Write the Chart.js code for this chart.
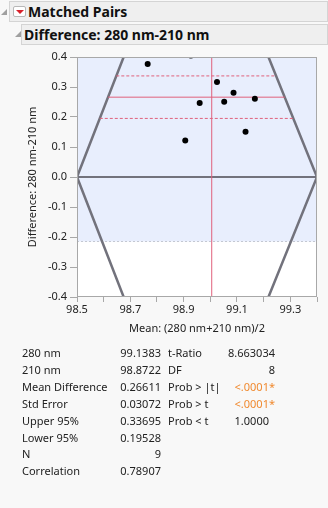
<!DOCTYPE html>
<html>
<head>
<meta charset="utf-8">
<script src="https://cdn.jsdelivr.net/npm/chart.js@4.4.1/dist/chart.umd.min.js"></script>
<style>
  body { margin: 0; width: 328px; height: 508px; overflow: hidden; position: relative;
         background: #f8f8f8; font-family: "Noto Sans", sans-serif; color: #222; }
  .hdr { position: absolute; box-sizing: border-box; background: #efefef; border: 1px solid #d4d4d4;
         font-weight: bold; font-size: 14px; line-height: 19px; color: #111; }
  .tog { position: absolute; width: 0; height: 0; border-left: 6px solid transparent; border-bottom: 6px solid #a0a0a0; }
  .menu { position: absolute; box-sizing: border-box; width: 13px; height: 11px; background: #fff; border: 1px solid #b8b8b8; border-radius: 2px; }
  .menu:after { content: ""; position: absolute; left: 2px; top: 3px; border-left: 4px solid transparent;
                border-right: 4px solid transparent; border-top: 4px solid #d8202a; }
  #wrap { position: absolute; left: 0; top: 46px; width: 328px; height: 300px; }
  .cell { position: absolute; font-size: 11px; line-height: 14px; white-space: nowrap; }
  .num { text-align: right; }
  .sig { color: #f08a30; }
</style>
</head>
<body>
<div class="tog" style="left:1px;top:9px"></div>
<div class="hdr" style="left:9px;top:1px;width:319px;height:21px;padding-left:18px">Matched Pairs</div>
<div class="menu" style="left:13px;top:6px"></div>
<div class="tog" style="left:15px;top:31px"></div>
<div class="hdr" style="left:21px;top:24px;width:307px;height:21px;padding-left:2px">Difference: 280 nm-210 nm</div>
<div id="wrap"><canvas id="mp"></canvas></div>
<div id="stats"></div>
<script>
// paired observations: mean of the two readings vs. their difference
const meanPair = [98.765, 98.927, 99.025, 99.087, 99.167, 99.052, 98.960, 99.132, 98.906];
const diffPair = [0.377, 0.405, 0.317, 0.281, 0.261, 0.251, 0.247, 0.151, 0.122];

// summary statistics
const mean280 = 99.1383;
const mean210 = 98.8722;
const meanDiff = 0.26611;
const stdErr = 0.03072;
const upper95 = 0.33695;
const lower95 = 0.19528;
const nPairs = 9;
const corr = 0.78907;
const tRatio = 8.663034;
const df = 8;

// axes
const xTicks = [98.5, 98.6, 98.7, 98.8, 98.9, 99.0, 99.1, 99.2, 99.3, 99.4];
const xTickLabels = ['98.5', '', '98.7', '', '98.9', '', '99.1', '', '99.3', ''];
const yTicks = [-0.4, -0.3, -0.2, -0.1, 0, 0.1, 0.2, 0.3, 0.4];
const yTickLabels = ['-0.4', '-0.3', '-0.2', '-0.1', '0.0', '0.1', '0.2', '0.3', '0.4'];

// rotated difference-axis frame and shaded band
const frameY = [0.4, 0, -0.4];
const frameLeftX = [98.675, 98.5, 98.675];
const frameRightX = [99.218, 99.4, 99.218];
const shadeFloor = -0.215;

const xMin = xTicks[0], xMax = xTicks[xTicks.length - 1];
const yMin = yTicks[0], yMax = yTicks[yTicks.length - 1];
const grandMean = (mean280 + mean210) / 2;

// x position of the frame edges at a given difference
function leftEdge(v) { return frameLeftX[1] + (frameLeftX[0] - frameLeftX[1]) * Math.abs(v) / frameY[0]; }
function rightEdge(v) { return frameRightX[1] + (frameRightX[0] - frameRightX[1]) * Math.abs(v) / frameY[0]; }
function hline(v) { return [{ x: leftEdge(v), y: v }, { x: rightEdge(v), y: v }]; }

const red = '#e0607c';
const frameGray = '#72727c';

// white plot background and a full border round the plot
const boxPlugin = {
  id: 'plotBox',
  beforeDatasetsDraw(chart) {
    const { ctx, chartArea: a } = chart;
    ctx.save();
    ctx.fillStyle = '#fff';
    ctx.fillRect(a.left, a.top, a.width, a.height);
    ctx.restore();
  },
  afterDraw(chart) {
    const { ctx, chartArea: a } = chart;
    ctx.save();
    ctx.strokeStyle = '#a8a8a8';
    ctx.lineWidth = 1;
    ctx.strokeRect(a.left + 0.5, a.top + 0.5, a.width - 1, a.height - 1);
    ctx.restore();
  }
};

new Chart(document.getElementById('mp'), {
  type: 'scatter',
  data: {
    datasets: [
      { data: meanPair.map((m, i) => ({ x: m, y: diffPair[i] })), pointRadius: 3, pointHoverRadius: 3,
        backgroundColor: '#000', borderWidth: 0, clip: 0 },
      { data: hline(meanDiff), showLine: true, borderColor: red, borderWidth: 1, pointRadius: 0 },
      { data: hline(upper95), showLine: true, borderColor: red, borderWidth: 1, borderDash: [3, 2], pointRadius: 0 },
      { data: hline(lower95), showLine: true, borderColor: red, borderWidth: 1, borderDash: [3, 2], pointRadius: 0 },
      { data: [{ x: grandMean, y: yMin }, { x: grandMean, y: yMax }], showLine: true, borderColor: red, borderWidth: 1, pointRadius: 0 },
      { data: frameY.map((y, i) => ({ x: frameLeftX[i], y })), showLine: true, borderColor: frameGray, borderWidth: 2.5, pointRadius: 0, clip: 0 },
      { data: frameY.map((y, i) => ({ x: frameRightX[i], y })), showLine: true, borderColor: frameGray, borderWidth: 2.5, pointRadius: 0, clip: 0 },
      { data: [{ x: xMin, y: 0 }, { x: xMax, y: 0 }], showLine: true, borderColor: frameGray, borderWidth: 2, pointRadius: 0 },
      { data: [{ x: xMin, y: shadeFloor }, { x: xMax, y: shadeFloor }], showLine: true, fill: 'end',
        backgroundColor: '#e8eefd', borderColor: '#c4c8d2', borderWidth: 1, borderDash: [2, 2], pointRadius: 0 }
    ]
  },
  options: {
    responsive: true,
    maintainAspectRatio: false,
    animation: false,
    events: [],
    layout: { padding: { top: 11, right: 11, left: 0, bottom: 0 } },
    plugins: { legend: { display: false }, tooltip: { enabled: false } },
    scales: {
      x: {
        type: 'linear', min: xMin, max: xMax,
        afterBuildTicks: s => { s.ticks = xTicks.map(v => ({ value: v })); },
        afterFit: s => { s.height = 49; },
        ticks: { autoSkip: false, maxRotation: 0, padding: 1, color: '#222',
                 font: { family: 'Noto Sans', size: 11 }, callback: (v, i) => xTickLabels[i] },
        grid: { drawOnChartArea: false, tickLength: 5, color: '#a8a8a8' },
        border: { display: false },
        title: { display: true, text: 'Mean: (280 nm+210 nm)/2', color: '#222',
                 font: { family: 'Noto Sans', size: 11 }, padding: { top: 0, bottom: 11 } }
      },
      y: {
        type: 'linear', min: yMin, max: yMax,
        afterBuildTicks: s => { s.ticks = yTicks.map(v => ({ value: v })); },
        afterFit: s => { s.width = 77; },
        ticks: { autoSkip: false, padding: 3, color: '#222',
                 font: { family: 'Noto Sans', size: 11 }, callback: (v, i) => yTickLabels[i] },
        grid: { drawOnChartArea: false, tickLength: 7, color: '#a8a8a8' },
        border: { display: false },
        title: { display: true, text: 'Difference: 280 nm-210 nm', color: '#222',
                 font: { family: 'Noto Sans', size: 11 }, padding: { top: 26, bottom: 0 } }
      }
    }
  },
  plugins: [boxPlugin]
});

// report table under the plot
const statLabels = ['280 nm', '210 nm', 'Mean Difference', 'Std Error', 'Upper 95%', 'Lower 95%', 'N', 'Correlation'];
const statValues = [mean280.toFixed(4), mean210.toFixed(4), meanDiff.toFixed(5), stdErr.toFixed(5),
                    upper95.toFixed(5), lower95.toFixed(5), String(nPairs), corr.toFixed(5)];
const testLabels = ['t-Ratio', 'DF', 'Prob > |t|', 'Prob > t', 'Prob < t'];
const testValues = [tRatio.toFixed(6), String(df), '<.0001*', '<.0001*', '1.0000'];

const stats = document.getElementById('stats');
function cell(text, left, top, cls, right) {
  const d = document.createElement('div');
  d.className = 'cell ' + (cls || '');
  d.textContent = text;
  d.style.top = top + 'px';
  if (right !== undefined) { d.style.right = right + 'px'; } else { d.style.left = left + 'px'; }
  stats.appendChild(d);
}
statLabels.forEach((t, i) => {
  const top = 346 + i * 16.9;
  cell(t, 22, top);
  cell(statValues[i], 0, top, 'num', 328 - 161);
  if (i < testLabels.length) {
    cell(testLabels[i], 168, top);
    const v = testValues[i];
    const sig = v.endsWith('*');
    cell(v, 0, top, 'num' + (sig ? ' sig' : ''), sig || i < 2 ? 328 - 275 : 328 - 269);
  }
});
</script>
</body>
</html>
